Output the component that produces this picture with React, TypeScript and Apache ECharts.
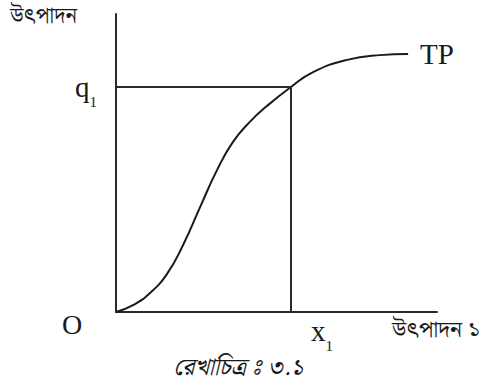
import React, { useEffect, useRef } from "react";
import * as echarts from "echarts";

// Total product (TP) curve: input on x, output on y
const inputUnits = [0, 5.3, 10.6, 15.9, 20.9, 26.2, 31.5, 36.4, 41.7, 47.0, 54.5, 61.4, 72.0, 82.2, 91.0];
const outputUnits = [0, 2.3, 6.4, 12.8, 22.5, 35.2, 47.7, 57.0, 63.8, 69.1, 75.5, 80.5, 84.6, 86.2, 86.6];

// Reference point on the curve
const X1 = 54.5;
const Q1 = 75.5;

const yAxisTitle = "উৎপাদন";
const xAxisTitle = "উৎপাদন ১";
// NBSP lets the visarga sit on its own without a dotted-circle placeholder
const caption = "রেখাচিত্র\u00A0ঃ ৩.১";
const curveName = "TP";

const SERIF = "'Liberation Serif', 'DejaVu Serif', serif";
const BENGALI = "'Noto Serif Bengali', 'Noto Sans Bengali', 'Lohit Bengali', 'FreeSerif', 'Noto Sans', sans-serif";
const INK = "#1a1a1a";

// main letter with a lowered numeric subscript
const subRich = {
  m: { fontFamily: SERIF, fontSize: 29, color: INK, lineHeight: 44 },
  s: { fontFamily: SERIF, fontSize: 15, color: INK, verticalAlign: "bottom", lineHeight: 14 },
};

export default function App() {
  const ref = useRef<HTMLDivElement>(null);

  useEffect(() => {
    if (!ref.current) return;
    const chart = echarts.init(ref.current, null, { renderer: "svg" });
    const points = inputUnits.map((x, i) => [x, outputUnits[i]]);

    chart.setOption({
      animation: false,
      backgroundColor: "#ffffff",
      grid: { left: 116, right: 55, top: 14, bottom: 75 },
      xAxis: {
        type: "value",
        min: 0,
        max: 100,
        axisLine: { show: true, lineStyle: { color: "#2a2a2a", width: 2 } },
        axisTick: { show: false },
        axisLabel: { show: false },
        splitLine: { show: false },
      },
      yAxis: {
        type: "value",
        min: 0,
        max: 100,
        axisLine: { show: true, lineStyle: { color: "#2a2a2a", width: 2 } },
        axisTick: { show: false },
        axisLabel: { show: false },
        splitLine: { show: false },
      },
      series: [
        {
          type: "line",
          name: curveName,
          data: points,
          smooth: 0.5,
          showSymbol: false,
          lineStyle: { color: INK, width: 2 },
          endLabel: {
            show: true,
            formatter: curveName,
            fontFamily: SERIF,
            fontSize: 29,
            color: INK,
            distance: 12,
          },
          markLine: {
            silent: true,
            symbol: ["none", "none"],
            lineStyle: { color: "#2a2a2a", width: 2, type: "solid" },
            data: [
              [
                {
                  coord: [0, Q1],
                  label: {
                    show: true,
                    position: "start",
                    distance: 19,
                    formatter: "{m|q}{s|1}",
                    rich: subRich,
                  },
                },
                { coord: [X1, Q1] },
              ],
              [
                {
                  coord: [X1, 0],
                  label: {
                    show: true,
                    position: "start",
                    distance: -3,
                    formatter: "{m|x}{s|1}",
                    padding: [0, 0, 0, 62],
                    rich: subRich,
                  },
                },
                { coord: [X1, Q1] },
              ],
            ],
          },
        },
      ],
      graphic: [
        {
          type: "text",
          left: 10,
          top: 5,
          style: { text: yAxisTitle, font: `22px ${BENGALI}`, fill: INK },
        },
        {
          type: "text",
          x: 62,
          y: 310,
          style: { text: "O", font: `28px ${SERIF}`, fill: INK },
        },
        {
          type: "text",
          x: 392,
          y: 319,
          style: { text: xAxisTitle, font: `23px ${BENGALI}`, fill: INK },
        },
        {
          type: "text",
          x: 238,
          y: 368,
          style: {
            text: caption,
            font: `italic 24px ${BENGALI}`,
            fill: INK,
            align: "center",
            verticalAlign: "middle",
          },
        },
      ],
    });

    return () => chart.dispose();
  }, []);

  return (
    <div
      ref={ref}
      style={{ position: "fixed", left: 0, top: 0, width: 492, height: 387 }}
    />
  );
}
